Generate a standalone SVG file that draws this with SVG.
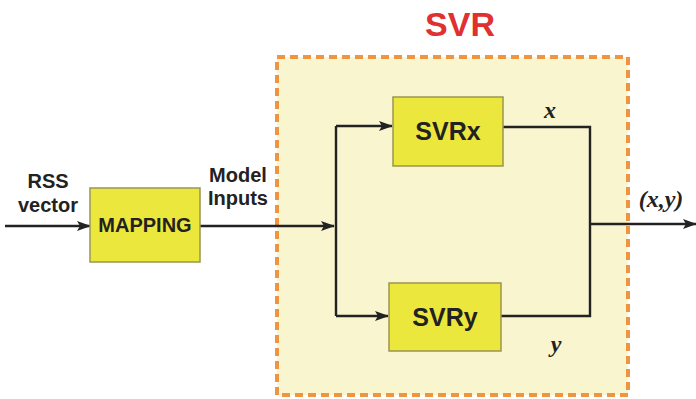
<svg xmlns="http://www.w3.org/2000/svg" width="696" height="399" viewBox="0 0 696 399">
<style>
.blk{fill:#ece73c;stroke:#9a9650;stroke-width:1.5}
.lbl{font-family:"Liberation Sans",Arial,sans-serif;font-weight:bold;fill:#222}
.it{font-family:"Liberation Serif","Times New Roman",serif;font-style:italic;font-weight:bold;fill:#222}
.ln{fill:none;stroke:#222;stroke-width:2.4}
</style>
<defs>
<marker id="ah" markerWidth="14" markerHeight="10" refX="13" refY="5" orient="auto" markerUnits="userSpaceOnUse">
<path d="M0,0 L14,5 L0,10 L3,5 z" fill="#222"/>
</marker>
</defs>
<rect width="696" height="399" fill="#fff"/>
<g id="svr">
<rect x="277" y="57" width="351" height="338" fill="#f8f5cf" stroke="#ef9440" stroke-width="4" stroke-dasharray="8,5"/>
<text x="460" y="36" text-anchor="middle" font-family="Liberation Sans,Arial,sans-serif" font-weight="bold" font-size="34" fill="#e03030">SVR</text>
</g>
<g id="connectors">
<path class="ln" d="M5,226 L90,226" marker-end="url(#ah)"/>
<path class="ln" d="M200,226 L334,226" marker-end="url(#ah)"/>
<path class="ln" d="M336,126 L336,316"/>
<path class="ln" d="M336,126 L392,126" marker-end="url(#ah)"/>
<path class="ln" d="M336,316 L388,316" marker-end="url(#ah)"/>
<path class="ln" d="M503,127 L590,127 L590,316 L501,316"/>
<path class="ln" d="M590,224 L696,224" marker-end="url(#ah)"/>
</g>
<g id="mapping">
<rect class="blk" x="90" y="188" width="110" height="74"/>
<text class="lbl" x="145" y="232" text-anchor="middle" font-size="20">MAPPING</text>
</g>
<g id="svrx">
<rect class="blk" x="393" y="97" width="110" height="69"/>
<text class="lbl" x="448" y="140" text-anchor="middle" font-size="25">SVRx</text>
</g>
<g id="svry">
<rect class="blk" x="389" y="283" width="112" height="68"/>
<text class="lbl" x="445" y="326" text-anchor="middle" font-size="25">SVRy</text>
</g>
<g id="labels">
<text class="lbl" x="48" y="188" text-anchor="middle" font-size="20">RSS</text>
<text class="lbl" x="48" y="212" text-anchor="middle" font-size="20">vector</text>
<text class="lbl" x="238" y="182" text-anchor="middle" font-size="20">Model</text>
<text class="lbl" x="238" y="205" text-anchor="middle" font-size="20">Inputs</text>
<text class="it" x="550" y="118" text-anchor="middle" font-size="24">x</text>
<text class="it" x="556" y="352" text-anchor="middle" font-size="24">y</text>
<text class="it" x="661" y="207" text-anchor="middle" font-size="24">(x,y)</text>
</g>
</svg>
